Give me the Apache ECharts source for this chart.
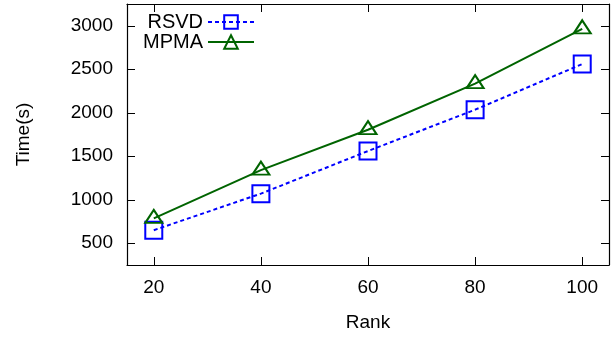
<!DOCTYPE html>
<html>
<head>
<meta charset="utf-8">
<script src="https://cdn.jsdelivr.net/npm/echarts@6/dist/echarts.min.js"></script>
<style>
html,body{margin:0;padding:0;background:#fff;}
#c{width:614px;height:337px;}
</style>
</head>
<body>
<div id="c"></div>
<script>
var ranks = [20, 40, 60, 80, 100];
var rsvd = [650, 1070, 1560, 2035, 2560];
var mpma = [785, 1340, 1805, 2335, 2965];
var xTicks = [20, 40, 60, 80, 100];
var yTicks = [500, 1000, 1500, 2000, 2500, 3000];
var seriesNames = ['RSVD', 'MPMA'];

var FONT = 'Liberation Sans, Arial, sans-serif';
function pairs(xs, ys){ return xs.map(function(x,i){ return [x, ys[i]]; }); }

var chart = echarts.init(document.getElementById('c'), null, {renderer:'canvas'});
var axisLineStyle = {show:true, lineStyle:{color:'#000', width:1.2}};
var tickStyle = {show:true, inside:true, length:8, lineStyle:{color:'#000', width:1}};
var option = {
  animation:false,
  backgroundColor:'#fff',
  grid:{left:127, right:5, top:4, bottom:70, show:false},
  xAxis:[{
    type:'value', min:15, max:105, position:'bottom',
    name:'Rank', nameLocation:'middle', nameGap:48,
    nameTextStyle:{fontFamily:FONT, fontSize:19, color:'#000'},
    axisLine:axisLineStyle, splitLine:{show:false},
    axisTick:Object.assign({customValues:xTicks}, tickStyle),
    axisLabel:{customValues:xTicks, fontFamily:FONT, fontSize:19, color:'#000', margin:13,
      formatter:function(v){return String(v);}}
  },{
    type:'value', min:15, max:105, position:'top',
    axisLine:axisLineStyle, splitLine:{show:false},
    axisTick:Object.assign({customValues:xTicks}, tickStyle),
    axisLabel:{show:false}
  }],
  yAxis:[{
    type:'value', min:250, max:3250, position:'left',
    name:'Time(s)', nameLocation:'middle', nameGap:94, nameRotate:90,
    nameTextStyle:{fontFamily:FONT, fontSize:19, color:'#000'},
    axisLine:axisLineStyle, splitLine:{show:false},
    axisTick:Object.assign({customValues:yTicks}, tickStyle),
    axisLabel:{customValues:yTicks, fontFamily:FONT, fontSize:19, color:'#000', margin:14,
      formatter:function(v){return String(v);}}
  },{
    type:'value', min:250, max:3250, position:'right',
    axisLine:axisLineStyle, splitLine:{show:false},
    axisTick:Object.assign({customValues:yTicks}, tickStyle),
    axisLabel:{show:false}
  }],
  legend:[{
    data:[seriesNames[0]], orient:'vertical', align:'right', right:359, top:12, padding:0,
    itemWidth:46, itemHeight:17, itemGap:4,
    textStyle:{fontFamily:FONT, fontSize:20, color:'#000'}
  },{
    data:[seriesNames[1]], orient:'vertical', align:'right', right:359, top:32, padding:0,
    itemWidth:46, itemHeight:17, itemGap:4,
    textStyle:{fontFamily:FONT, fontSize:20, color:'#000'}
  }],
  series:[{
    name:seriesNames[0], type:'line', data:pairs(ranks, rsvd),
    symbol:'rect', symbolSize:17,
    itemStyle:{color:'rgba(0,0,0,0)', borderColor:'#0000ff', borderWidth:2},
    lineStyle:{color:'#0000ff', width:2, type:[4,3]}
  },{
    name:seriesNames[1], type:'line', data:pairs(ranks, mpma),
    symbol:'triangle', symbolSize:[17,13], symbolOffset:[0,-2],
    itemStyle:{color:'rgba(0,0,0,0)', borderColor:'#006400', borderWidth:2},
    lineStyle:{color:'#006400', width:2}
  }]
};
chart.setOption(option);
</script>
</body>
</html>
